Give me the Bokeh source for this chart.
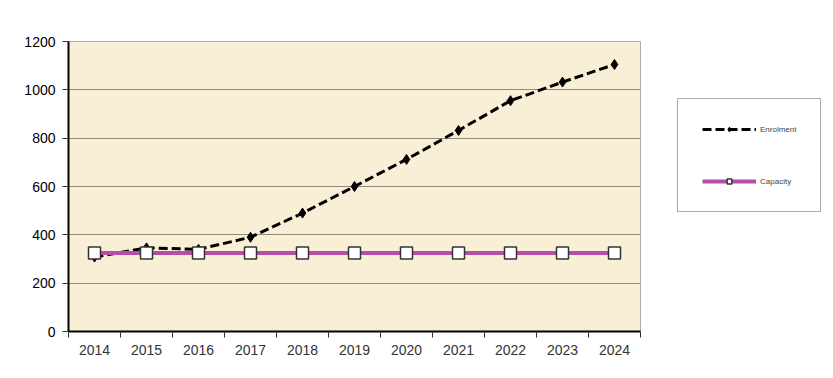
from bokeh.plotting import figure
from bokeh.models import FixedTicker, Legend, LegendItem, Range1d
from bokeh.embed import file_html
from bokeh.resources import INLINE

years = ["2014", "2015", "2016", "2017", "2018", "2019", "2020", "2021", "2022", "2023", "2024"]
enrolment = [308, 346, 340, 390, 490, 600, 712, 832, 955, 1032, 1105]
capacity = [325, 325, 325, 325, 325, 325, 325, 325, 325, 325, 325]
y_ticks = [0, 200, 400, 600, 800, 1000, 1200]

xs = list(range(len(years)))

p = figure(frame_width=572, frame_height=290, output_backend="svg", toolbar_location=None,
           x_range=Range1d(-0.5, len(years) - 0.5), y_range=Range1d(0, 1200),
           min_border_left=68, min_border_right=185, min_border_top=41, min_border_bottom=44)
p.outline_line_color = "#b0aca0"
p.outline_line_width = 1
p.background_fill_color = "#f9efd6"
p.border_fill_color = "white"

# axes
p.xaxis.ticker = FixedTicker(ticks=xs, minor_ticks=[i - 0.5 for i in range(len(years) + 1)])
p.xaxis.major_label_overrides = {i: y for i, y in enumerate(years)}
p.xaxis.major_tick_line_color = None
p.xaxis.minor_tick_line_color = "#333333"
p.xaxis.minor_tick_out = 6
p.xaxis.minor_tick_in = 0
p.xaxis.axis_line_color = "black"
p.xaxis.axis_line_width = 2
p.xaxis.major_label_text_font = "Liberation Sans"
p.xaxis.major_label_text_font_size = "14px"
p.xaxis.major_label_text_color = "#333333"
p.xaxis.major_label_standoff = 7

p.yaxis.ticker = FixedTicker(ticks=y_ticks)
p.yaxis.minor_tick_line_color = None
p.yaxis.major_tick_out = 6
p.yaxis.major_tick_in = 0
p.yaxis.major_tick_line_color = "#333333"
p.yaxis.axis_line_color = "black"
p.yaxis.axis_line_width = 2
p.yaxis.major_label_text_font = "Liberation Sans"
p.yaxis.major_label_text_font_size = "14px"
p.yaxis.major_label_text_color = "black"
p.yaxis.major_label_standoff = 7

p.xgrid.grid_line_color = None
p.ygrid.ticker = FixedTicker(ticks=y_ticks)
p.ygrid.grid_line_color = "#8f8a78"
p.ygrid.grid_line_width = 1.2

# series
l1 = p.line(xs, enrolment, line_color="black", line_width=3, line_dash="9 4")
m1 = p.scatter(xs, enrolment, marker="diamond", size=10, fill_color="black", line_color="black")
l2 = p.line(xs, capacity, line_color="#b84caa", line_width=4)
m2 = p.scatter(xs, capacity, marker="square", size=12, fill_color="white", line_color="#333333", line_width=1.5)

legend = Legend(items=[LegendItem(label="Enrolment", renderers=[l1, m1]),
                       LegendItem(label="Capacity", renderers=[l2, m2])],
                location=(37, 119))
legend.padding = 24
legend.spacing = 40
legend.glyph_width = 54
legend.glyph_height = 12
legend.label_height = 12
legend.label_standoff = 4
legend.label_text_font = "Liberation Sans"
legend.label_text_font_size = "8px"
legend.label_text_color = "#444444"
legend.border_line_color = "#555555"
legend.border_line_width = 1
legend.background_fill_color = "white"
legend.background_fill_alpha = 1
legend.margin = 0
p.add_layout(legend, "right")

open("out.html", "w").write(file_html(p, INLINE))
